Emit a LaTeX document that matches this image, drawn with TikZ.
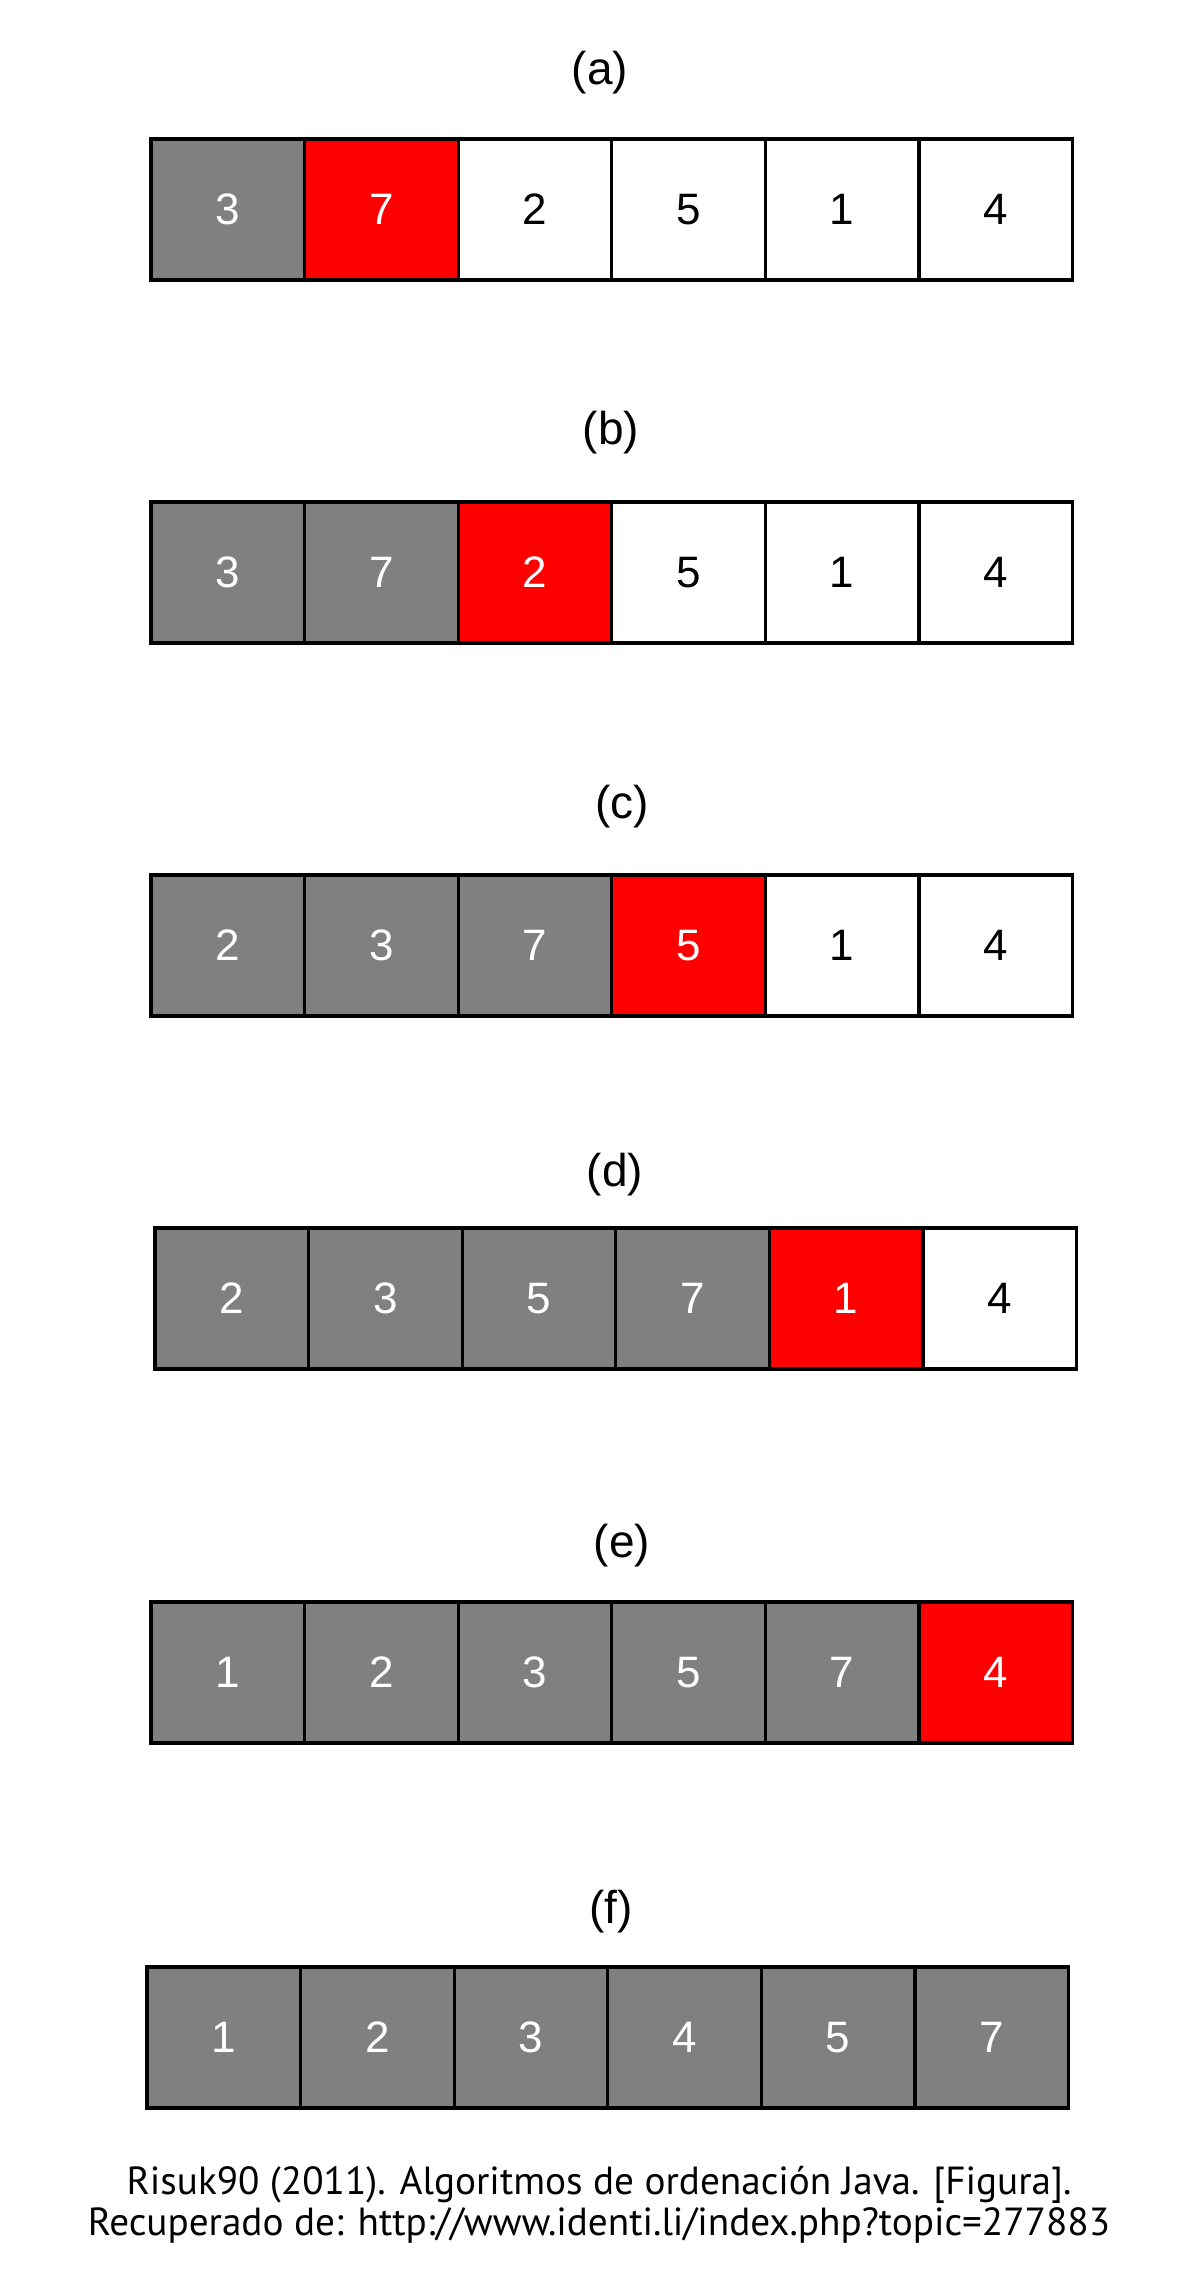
\documentclass[tikz,border=0pt]{standalone}
\usepackage{fontspec}
\setmainfont{Liberation Sans}
\newfontfamily\captionfont{PT Sans}
\usetikzlibrary{positioning}

\begin{document}
\begin{tikzpicture}[x=0.5pt, y=-0.5pt,
    cell/.style={draw=black, line width=1.6pt, minimum width=76.8pt, minimum height=70.5pt,
        inner sep=0pt, outer sep=0pt, font=\fontsize{22}{24}\selectfont},
    sorted/.style={cell, fill=gray, text=white},
    current/.style={cell, fill=red, text=white},
    unsorted/.style={cell, fill=white, text=black},
    steplabel/.style={font=\fontsize{23}{26}\selectfont},
    source/.style={font=\captionfont\fontsize{19.6}{20.5}\selectfont, align=center}]
    \useasboundingbox (0,0) rectangle (1188,2279);

    % Filas del ordenamiento por insercion
    \foreach \lab/\lx/\ly/\x/\y/\vals in {
        a/600/73/151/139/{3/sorted,7/current,2/unsorted,5/unsorted,1/unsorted,4/unsorted},
        b/611/433/151/502/{3/sorted,7/sorted,2/current,5/unsorted,1/unsorted,4/unsorted},
        c/622/807/151/875/{2/sorted,3/sorted,7/sorted,5/current,1/unsorted,4/unsorted},
        d/615/1175/155/1228/{2/sorted,3/sorted,5/sorted,7/sorted,1/current,4/unsorted},
        e/622/1546/151/1602/{1/sorted,2/sorted,3/sorted,5/sorted,7/sorted,4/current},
        f/611/1912/147/1967/{1/sorted,2/sorted,3/sorted,4/sorted,5/sorted,7/sorted}}
    {
        \node[steplabel] (lab\lab) at (\lx,\ly) {(\lab)};
        \foreach \v/\s [count=\i] in \vals
            \node[\s] (\lab\i) at ({\x+(\i-0.5)*153.6},{\y+70.5}) {\v};
    }

    % Fuente
    \node[source] (src) at (599,2205)
        {Risuk90 (2011). Algoritmos de ordenación Java. [Figura].\\
         Recuperado de: http://www.identi.li/index.php?topic=277883};
\end{tikzpicture}
\end{document}
